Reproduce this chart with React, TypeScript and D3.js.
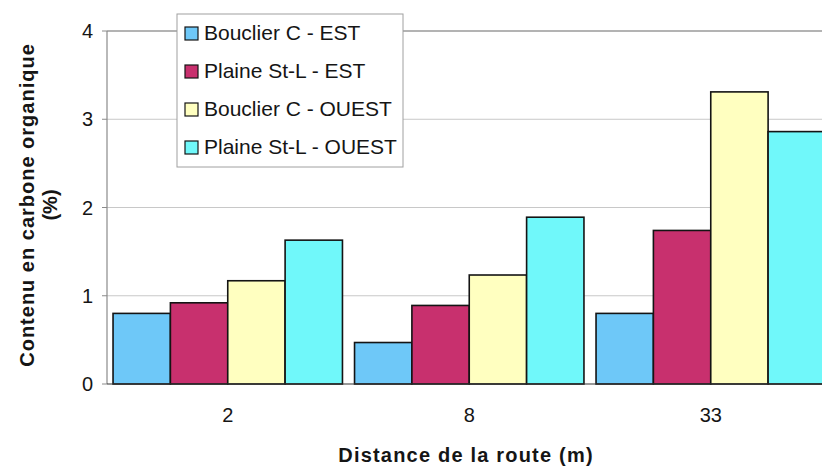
import React from "react";
import * as d3 from "d3";

// Distance from the road (m)
const distances = ["2", "8", "33"];
const seriesNames = [
  "Bouclier C - EST",
  "Plaine St-L - EST",
  "Bouclier C - OUEST",
  "Plaine St-L - OUEST",
];
// Organic carbon content (%) per series, one value per distance
const bouclierEst = [0.8, 0.47, 0.8];
const plaineEst = [0.92, 0.89, 1.74];
const bouclierOuest = [1.17, 1.235, 3.31];
const plaineOuest = [1.63, 1.89, 2.86];
const yTicks = [0, 1, 2, 3, 4];

const seriesColors = ["#6ec8f8", "#c8306e", "#ffffc0", "#70f8fa"];

const W = 822;
const H = 466;
const plotLeft = 107;
const plotRight = 831.5;
const plotTop = 31;
const plotBottom = 384;

export default function App() {
  const values = [bouclierEst, plaineEst, bouclierOuest, plaineOuest];

  const x0 = d3
    .scaleBand<string>()
    .domain(distances)
    .range([plotLeft, plotRight])
    .paddingInner(0.05)
    .paddingOuter(0.025);
  const x1 = d3
    .scaleBand<string>()
    .domain(seriesNames)
    .range([0, x0.bandwidth()])
    .padding(0);
  const y = d3.scaleLinear().domain([0, 4]).range([plotBottom, plotTop]);

  const font = "'Liberation Sans', Arial, sans-serif";
  const textColor = "#151515";

  return (
    <svg
      width={W}
      height={H}
      style={{ position: "absolute", left: 0, top: 0, background: "#fff" }}
      fontFamily={font}
    >
      <defs>
        <clipPath id="plot-clip">
          <rect x={0} y={0} width={W} height={H} />
        </clipPath>
      </defs>

      {/* gridlines */}
      {yTicks
        .filter((t) => t > 0)
        .map((t) => (
          <line
            key={"g" + t}
            x1={plotLeft}
            x2={W}
            y1={y(t)}
            y2={y(t)}
            stroke={t === 4 ? "#9a9a9a" : "#c8c8c8"}
            strokeWidth={t === 4 ? 1.5 : 1}
          />
        ))}

      {/* left axis */}
      <line
        x1={plotLeft}
        x2={plotLeft}
        y1={plotTop}
        y2={plotBottom}
        stroke="#8a8a8a"
        strokeWidth={1.2}
      />
      {yTicks.map((t) => (
        <g key={"t" + t}>
          <line
            x1={plotLeft - 5}
            x2={plotLeft}
            y1={y(t)}
            y2={y(t)}
            stroke="#8a8a8a"
          />
          <text
            x={93}
            y={y(t)}
            dy="0.35em"
            textAnchor="end"
            fontSize={20}
            fill={textColor}
          >
            {t}
          </text>
        </g>
      ))}

      {/* bars */}
      <g clipPath="url(#plot-clip)">
        {distances.map((dist, i) => (
          <g key={dist} transform={`translate(${x0(dist)},0)`}>
            {seriesNames.map((name, s) => {
              const v = values[s][i];
              return (
                <rect
                  key={name}
                  x={x1(name)}
                  y={y(v)}
                  width={x1.bandwidth()}
                  height={y(0) - y(v)}
                  fill={seriesColors[s]}
                  stroke="#141414"
                  strokeWidth={1.6}
                />
              );
            })}
          </g>
        ))}
      </g>

      {/* baseline */}
      <line
        x1={plotLeft}
        x2={W}
        y1={plotBottom}
        y2={plotBottom}
        stroke="#333"
        strokeWidth={1.2}
      />

      {/* x tick labels */}
      {distances.map((dist) => (
        <text
          key={"x" + dist}
          x={(x0(dist) as number) + x0.bandwidth() / 2}
          y={422}
          textAnchor="middle"
          fontSize={20}
          fill={textColor}
        >
          {dist}
        </text>
      ))}

      {/* axis titles */}
      <text
        x={466}
        y={462}
        textAnchor="middle"
        fontSize={20}
        fontWeight="bold"
        letterSpacing={1.2}
        fill={textColor}
      >
        Distance de la route (m)
      </text>
      <g transform={`translate(0,205) rotate(-90)`}>
        <text
          x={0}
          y={34}
          textAnchor="middle"
          fontSize={20}
          fontWeight="bold"
          letterSpacing={1}
          fill={textColor}
        >
          Contenu en carbone organique
        </text>
        <text
          x={0}
          y={57}
          textAnchor="middle"
          fontSize={20}
          fontWeight="bold"
          fill={textColor}
        >
          (%)
        </text>
      </g>

      {/* legend */}
      <g>
        <rect
          x={177}
          y={14}
          width={226}
          height={153}
          fill="#fff"
          stroke="#a0a0a0"
          strokeWidth={1}
        />
        {seriesNames.map((name, s) => {
          const cy = 33 + s * 38;
          return (
            <g key={"l" + name}>
              <rect
                x={185}
                y={cy - 6}
                width={13}
                height={13}
                fill={seriesColors[s]}
                stroke="#141414"
                strokeWidth={1.2}
              />
              <text
                x={204}
                y={cy}
                dy="0.35em"
                fontSize={21}
                fill={textColor}
              >
                {name}
              </text>
            </g>
          );
        })}
      </g>
    </svg>
  );
}
